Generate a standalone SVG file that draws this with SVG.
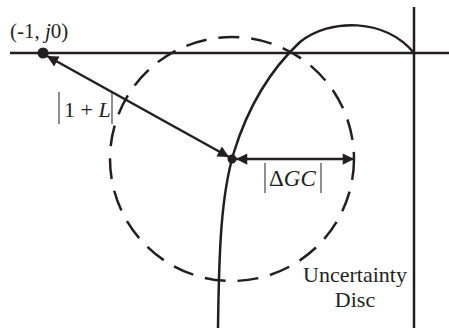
<svg xmlns="http://www.w3.org/2000/svg" width="449" height="328" viewBox="0 0 449 328">
<style>
.ln{stroke:#231f20;stroke-width:2.5;fill:none}
.t{font-family:"Liberation Serif",serif;fill:#231f20}
.bar{stroke:#231f20;stroke-width:1}
</style>
<defs>
<marker id="ah" viewBox="0 0 10 10" refX="10" refY="5" markerWidth="6" markerHeight="4.5" orient="auto-start-reverse" markerUnits="strokeWidth">
<path d="M0,0 L10,5 L0,10 z" fill="#231f20"/>
</marker>
</defs>
<g id="axes">
<line class="ln" x1="10" y1="53" x2="449" y2="53"/>
<line class="ln" x1="414" y1="7" x2="414" y2="328"/>
</g>
<g id="disc">
<circle class="ln" cx="232" cy="159" r="122" stroke-dasharray="21 12"/>
</g>
<g id="nyquist">
<path class="ln" d="M218,328 C219,250 221,195 234,152 C247,110 268,72 300,42 C330,18 385,18 414,53"/>
</g>
<g id="connectors">
<line class="ln" x1="47" y1="56" x2="229" y2="157" marker-start="url(#ah)" marker-end="url(#ah)"/>
<line class="ln" x1="236" y1="159" x2="354" y2="159" marker-start="url(#ah)" marker-end="url(#ah)"/>
</g>
<g id="points">
<circle cx="43" cy="53" r="5.5" fill="#231f20"/>
<circle cx="232" cy="159" r="4.5" fill="#231f20"/>
</g>
<g id="labels">
<text class="t" x="10" y="38" font-size="21">(-1, <tspan font-style="italic">j</tspan>0)</text>
<line class="bar" x1="59" y1="92" x2="59" y2="124"/>
<text class="t" x="64" y="117" font-size="22">1 + <tspan font-style="italic">L</tspan></text>
<line class="bar" x1="112" y1="92" x2="112" y2="124"/>
<line class="bar" x1="265" y1="163" x2="265" y2="193"/>
<text class="t" x="269" y="186" font-size="23">Δ<tspan font-style="italic">GC</tspan></text>
<line class="bar" x1="321" y1="163" x2="321" y2="193"/>
<text class="t" x="355" y="282" font-size="22" text-anchor="middle">Uncertainty</text>
<text class="t" x="355" y="307" font-size="22" text-anchor="middle">Disc</text>
</g>
</svg>
